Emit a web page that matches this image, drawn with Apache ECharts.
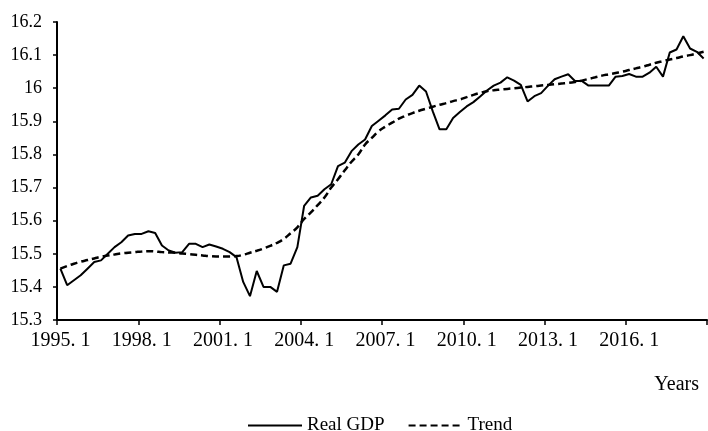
<!DOCTYPE html>
<html>
<head>
<meta charset="utf-8">
<script src="https://cdn.jsdelivr.net/npm/echarts@6/dist/echarts.min.js"></script>
<style>html,body{margin:0;padding:0;background:#fff;}#c{width:708px;height:431px;}</style>
</head>
<body>
<div id="c"></div>
<script>
const startYear = 1995;
const nQuarters = 96;
const realGDP = [
15.455,15.405,15.420,15.435,15.455,15.475,15.480,15.500,15.520,15.535,15.555,15.560,
15.560,15.568,15.563,15.525,15.510,15.503,15.505,15.530,15.530,15.520,15.528,15.522,
15.515,15.505,15.490,15.415,15.372,15.448,15.400,15.400,15.385,15.465,15.470,15.520,
15.645,15.670,15.675,15.695,15.710,15.765,15.775,15.810,15.830,15.845,15.886,15.902,
15.918,15.936,15.938,15.966,15.980,16.008,15.990,15.930,15.876,15.876,15.910,15.928,
15.945,15.958,15.975,15.993,16.008,16.017,16.033,16.023,16.010,15.960,15.976,15.985,
16.007,16.027,16.035,16.042,16.022,16.022,16.008,16.008,16.008,16.008,16.035,16.037,
16.043,16.035,16.035,16.047,16.065,16.035,16.108,16.117,16.157,16.120,16.110,16.090
];
const trend = [
15.455,15.463,15.470,15.476,15.481,15.486,15.491,15.495,15.498,15.501,15.503,15.505,
15.507,15.508,15.507,15.505,15.504,15.503,15.501,15.499,15.497,15.495,15.493,15.492,
15.492,15.492,15.493,15.497,15.503,15.509,15.516,15.524,15.533,15.545,15.562,15.580,
15.605,15.625,15.647,15.670,15.700,15.725,15.752,15.778,15.800,15.830,15.850,15.870,
15.884,15.896,15.908,15.917,15.925,15.932,15.938,15.944,15.950,15.955,15.961,15.966,
15.973,15.980,15.986,15.991,15.994,15.996,15.998,16.000,16.002,16.004,16.006,16.008,
16.010,16.012,16.014,16.016,16.019,16.023,16.028,16.033,16.038,16.042,16.046,16.050,
16.055,16.060,16.065,16.071,16.077,16.082,16.087,16.091,16.096,16.100,16.105,16.110
];
const categories = [];
for (let i = 0; i < nQuarters; i++) {
  categories.push((startYear + Math.floor(i / 4)) + '. ' + (i % 4 + 1));
}
const yMin = 15.3, yMax = 16.2, yStep = 0.1;
const seriesNames = ['Real GDP', 'Trend'];
const xAxisTitle = 'Years';

const font = 'Liberation Serif';
const chart = echarts.init(document.getElementById('c'));
chart.setOption({
  animation: false,
  backgroundColor: '#fff',
  textStyle: { fontFamily: font, color: '#000' },
  grid: { left: 57, right: 1, top: 22, bottom: 111, containLabel: false },
  title: {
    text: xAxisTitle, right: 4, top: 370,
    textStyle: { fontFamily: font, fontSize: 20, fontWeight: 'normal', color: '#000' }
  },
  legend: {
    data: seriesNames,
    left: 242, top: 411,
    itemWidth: 54, itemHeight: 10, itemGap: 23,
    itemStyle: { opacity: 0 },
    textStyle: { fontFamily: font, fontSize: 19, color: '#000' }
  },
  xAxis: {
    type: 'category',
    data: categories,
    boundaryGap: true,
    axisLine: { lineStyle: { color: '#000', width: 2 } },
    axisTick: { show: true, interval: 11, length: 5, lineStyle: { color: '#000', width: 1.5 } },
    axisLabel: { interval: 11, margin: 11, fontFamily: font, fontSize: 20, color: '#000' },
    splitLine: { show: false }
  },
  yAxis: {
    type: 'value',
    min: yMin, max: yMax, interval: yStep,
    axisLine: { show: true, lineStyle: { color: '#000', width: 2 } },
    axisTick: { show: true, length: 4, lineStyle: { color: '#000', width: 1.5 } },
    axisLabel: { margin: 15, fontFamily: font, fontSize: 18, color: '#000',
      formatter: v => String(Math.round(v * 10) / 10) },
    splitLine: { show: false }
  },
  series: [
    { name: seriesNames[0], type: 'line', data: realGDP, symbol: 'none',
      lineStyle: { color: '#000', width: 2 }, itemStyle: { color: '#000' } },
    { name: seriesNames[1], type: 'line', data: trend, symbol: 'none', smooth: true,
      lineStyle: { color: '#000', width: 2.5, type: [7, 4] }, itemStyle: { color: '#000' } }
  ]
});
</script>
</body>
</html>
